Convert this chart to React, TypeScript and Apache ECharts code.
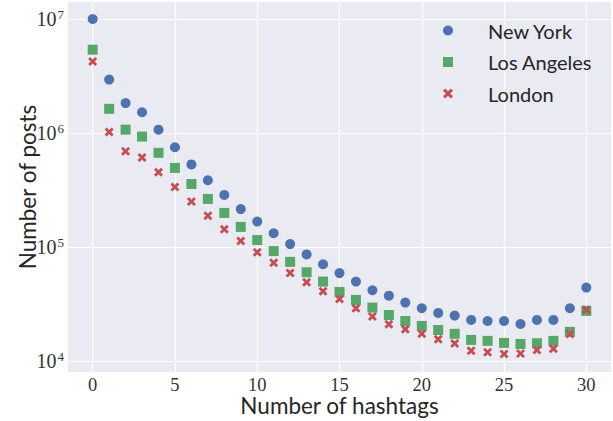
import React, { useEffect, useRef } from "react";
import * as echarts from "echarts";

const hashtags = [0, 1, 2, 3, 4, 5, 6, 7, 8, 9, 10, 11, 12, 13, 14, 15, 16, 17, 18, 19, 20, 21, 22, 23, 24, 25, 26, 27, 28, 29, 30];

const newYork = [
  1.0e7, 2.94e6, 1.83e6, 1.52e6, 1.07e6, 7.5e5, 5.3e5, 3.85e5, 2.86e5, 2.15e5,
  1.67e5, 1.32e5, 1.06e5, 8.6e4, 7.05e4, 5.9e4, 4.97e4, 4.17e4, 3.74e4, 3.25e4,
  2.9e4, 2.64e4, 2.5e4, 2.29e4, 2.24e4, 2.24e4, 2.11e4, 2.29e4, 2.29e4, 2.9e4, 4.4e4,
];

const losAngeles = [
  5.38e6, 1.63e6, 1.07e6, 9.3e5, 6.7e5, 4.94e5, 3.57e5, 2.64e5, 1.99e5, 1.5e5,
  1.15e5, 9.2e4, 7.4e4, 6.0e4, 4.97e4, 4.03e4, 3.43e4, 2.94e4, 2.53e4, 2.24e4,
  2.03e4, 1.87e4, 1.73e4, 1.53e4, 1.5e4, 1.44e4, 1.41e4, 1.43e4, 1.5e4, 1.8e4, 2.75e4,
];

const london = [
  4.23e6, 1.02e6, 6.9e5, 6.1e5, 4.52e5, 3.36e5, 2.5e5, 1.88e5, 1.43e5, 1.13e5,
  8.98e4, 7.28e4, 5.9e4, 4.9e4, 4.08e4, 3.5e4, 2.9e4, 2.45e4, 2.1e4, 1.9e4,
  1.73e4, 1.55e4, 1.42e4, 1.23e4, 1.19e4, 1.15e4, 1.16e4, 1.25e4, 1.28e4, 1.72e4, 2.82e4,
];

const seriesNames = ["New York", "Los Angeles", "London"];

const X_PATH =
  "path://M0,2.2L2.2,0L5,2.8L7.8,0L10,2.2L7.2,5L10,7.8L7.8,10L5,7.2L2.2,10L0,7.8L2.8,5Z";

const SANS = "Lato, 'Open Sans', sans-serif";
const SERIF = "'Liberation Serif', 'DejaVu Serif', serif";

export default function App() {
  const ref = useRef<HTMLDivElement>(null);

  useEffect(() => {
    if (!ref.current) return;
    const chart = echarts.init(ref.current, undefined, { renderer: "svg" });

    const pairs = (vals: number[]) => hashtags.map((h, i) => [h, vals[i]]);

    chart.setOption({
      animation: false,
      backgroundColor: "#ffffff",
      grid: {
        left: 68,
        right: 2,
        top: 2,
        bottom: 49,
        backgroundColor: "#eaeaf2",
        show: true,
        borderWidth: 0,
        containLabel: false,
        outerBoundsMode: "none",
      },
      legend: {
        orient: "vertical",
        left: 438,
        top: 15,
        itemWidth: 10,
        itemHeight: 10,
        itemGap: 10.5,
        data: [
          { name: "New York", icon: "circle" },
          { name: "Los Angeles", icon: "rect" },
          { name: "London", icon: X_PATH },
        ],
        textStyle: {
          fontFamily: SANS,
          fontSize: 20,
          lineHeight: 21,
          color: "#262626",
          padding: [0, 0, 0, 30],
        },
      },
      xAxis: {
        type: "value",
        min: -1.5,
        max: 31.5,
        splitNumber: 6,
        name: "Number of hashtags",
        nameLocation: "middle",
        nameGap: 22,
        nameMoveOverlap: false,
        nameTextStyle: { fontFamily: SANS, fontSize: 22.5, lineHeight: 22, color: "#262626" },
        axisLine: { show: false },
        axisTick: { show: false },
        axisLabel: {
          fontFamily: SERIF,
          fontSize: 18.5,
          lineHeight: 15,
          color: "#333333",
          margin: 5,
          showMinLabel: false,
          showMaxLabel: false,
          formatter: (v: number) => (Math.abs(v % 5) < 1e-9 ? String(v) : ""),
        },
        splitLine: { show: true, showMinLine: false, showMaxLine: false, lineStyle: { color: "#ffffff", width: 1.2 } },
      },
      yAxis: {
        type: "log",
        logBase: 10,
        min: 8000,
        max: 1.41e7,
        name: "Number of posts",
        nameLocation: "middle",
        nameGap: 29,
        nameMoveOverlap: false,
        nameTextStyle: { fontFamily: SANS, fontSize: 22.5, color: "#262626" },
        axisLine: { show: false },
        axisTick: { show: false },
        axisLabel: {
          margin: 4,
          showMinLabel: false,
          showMaxLabel: false,
          formatter: (v: number) => {
            const e = Math.log10(v);
            if (Math.abs(e - Math.round(e)) > 1e-6) return "";
            return "{b|10}{s|" + Math.round(e) + "}";
          },
          rich: {
            b: { fontFamily: SERIF, fontSize: 20, color: "#333333", lineHeight: 22 },
            s: { fontFamily: SERIF, fontSize: 13, color: "#333333", verticalAlign: "top", lineHeight: 22, padding: [0, 0, 9, 1] },
          },
        },
        splitLine: { show: true, showMinLine: false, showMaxLine: false, lineStyle: { color: "#ffffff", width: 1.2 } },
      },
      series: [
        {
          name: seriesNames[0],
          type: "scatter",
          symbol: "circle",
          symbolSize: 10,
          itemStyle: { color: "#4c72b0", opacity: 1 },
          data: pairs(newYork),
        },
        {
          name: seriesNames[1],
          type: "scatter",
          symbol: "rect",
          symbolSize: 10,
          itemStyle: { color: "#55a868", opacity: 1 },
          data: pairs(losAngeles),
        },
        {
          name: seriesNames[2],
          type: "scatter",
          symbol: X_PATH,
          symbolSize: 9,
          itemStyle: { color: "#c44e52", opacity: 1 },
          data: pairs(london),
        },
      ],
    });

    return () => chart.dispose();
  }, []);

  return <div ref={ref} style={{ width: 613, height: 421, position: "absolute", left: 0, top: 0 }} />;
}
